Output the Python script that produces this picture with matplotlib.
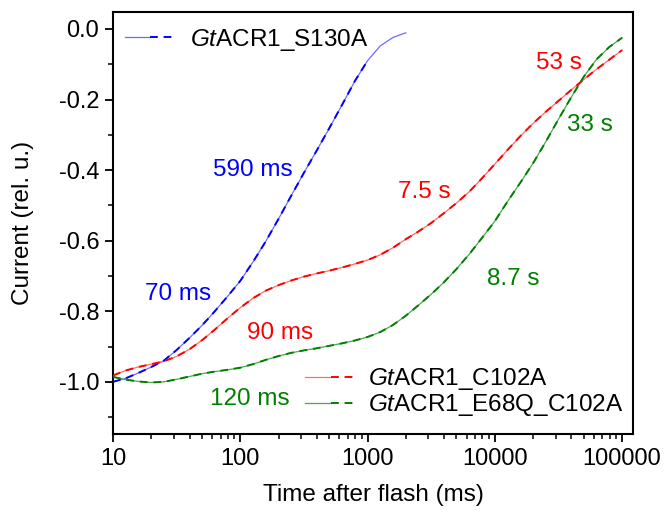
import matplotlib
matplotlib.use("Agg")
import matplotlib.pyplot as plt
from matplotlib.ticker import LogLocator, MultipleLocator, FixedLocator, NullFormatter
from matplotlib.legend_handler import HandlerTuple

plt.rcParams['font.family'] = ['Liberation Sans', 'DejaVu Sans']
plt.rcParams['mathtext.fontset'] = 'custom'
plt.rcParams['mathtext.it'] = 'Liberation Sans:italic'
plt.rcParams['mathtext.rm'] = 'Liberation Sans'

# ---- data ----
time_ms = [10, 12.6, 15.8, 20, 25.1, 31.6, 39.8, 50.1, 63.1, 79.4,
           100, 126, 158, 200, 251, 316, 398, 501, 631, 794,
           1000, 1259, 1585, 1995, 2512, 3162, 3981, 5012, 6310, 7943,
           10000, 12589, 15849, 19953, 25119, 31623, 39811, 50119, 63096, 79433,
           100000]

blue_y = [-1.000, -0.990, -0.975, -0.958, -0.940, -0.910, -0.876, -0.840, -0.800, -0.758,
          -0.714, -0.660, -0.603, -0.538, -0.473, -0.408, -0.345, -0.281, -0.215, -0.148,
          -0.090, -0.048, -0.024, -0.011]

red_y = [-0.982, -0.968, -0.958, -0.950, -0.942, -0.928, -0.908, -0.882, -0.852, -0.820,
         -0.790, -0.763, -0.742, -0.726, -0.713, -0.702, -0.693, -0.685, -0.676, -0.666,
         -0.655, -0.640, -0.620, -0.596, -0.574, -0.550, -0.522, -0.493, -0.461, -0.423,
         -0.383, -0.343, -0.304, -0.268, -0.235, -0.204, -0.173, -0.143, -0.114, -0.087,
         -0.060]

green_y = [-0.986, -0.994, -0.999, -1.002, -1.000, -0.993, -0.985, -0.977, -0.971, -0.966,
           -0.960, -0.950, -0.938, -0.927, -0.918, -0.911, -0.905, -0.898, -0.891, -0.883,
           -0.873, -0.859, -0.839, -0.813, -0.783, -0.752, -0.718, -0.680, -0.638, -0.592,
           -0.545, -0.489, -0.436, -0.381, -0.320, -0.256, -0.194, -0.135, -0.086, -0.051,
           -0.025]

blue_fit_points = 21  # fitted (dashed) blue curve ends at 1000 ms

x_ticks = [10, 100, 1000, 10000, 100000]
x_tick_labels = ['10', '100', '1000', '10000', '100000']
y_ticks = [0.0, -0.2, -0.4, -0.6, -0.8, -1.0]
y_tick_labels = ['0.0', '-0.2', '-0.4', '-0.6', '-0.8', '-1.0']

labels = [r'$\it{Gt}$ACR1_S130A', r'$\it{Gt}$ACR1_C102A', r'$\it{Gt}$ACR1_E68Q_C102A']

annot_text = ['590 ms', '70 ms', '90 ms', '120 ms', '7.5 s', '53 s', '33 s', '8.7 s']
annot_x = [126, 32.5, 206, 118, 2810, 31900, 56000, 13900]
annot_y = [-0.40, -0.751, -0.861, -1.048, -0.462, -0.096, -0.272, -0.708]
annot_color = ['blue', 'blue', 'red', 'green', 'red', 'red', 'green', 'green']

FS = 17.5
fig = plt.figure(figsize=(6.66, 5.12), dpi=100)
ax = fig.add_axes([0.1697, 0.1523, 0.7808, 0.8242])

def curve(y, color, light, n_fit=None):
    t = time_ms[:len(y)]
    solid, = ax.plot(t, y, '-', color=light, lw=0.9, zorder=2)
    n = len(y) if n_fit is None else n_fit
    dashed, = ax.plot(t[:n], y[:n], '--', color=color, lw=1.4, dashes=(4, 3), zorder=3)
    return solid, dashed

hb = curve(blue_y, '#0000ff', '#6b6bff', blue_fit_points)
hr = curve(red_y, '#ff0000', '#ff6b6b')
hg = curve(green_y, '#007f00', '#4fa64f')

ax.set_xscale('log')
ax.set_xlim(10, 122000)
ax.set_ylim(-1.148, 0.048)

ax.xaxis.set_major_locator(FixedLocator(x_ticks))
ax.set_xticklabels(x_tick_labels)
ax.xaxis.set_minor_locator(LogLocator(base=10, subs=range(2, 10)))
ax.xaxis.set_minor_formatter(NullFormatter())
ax.set_yticks(y_ticks)
ax.set_yticklabels(y_tick_labels)
ax.yaxis.set_minor_locator(MultipleLocator(0.1))

ax.tick_params(which='major', direction='out', length=6, width=1.3, labelsize=17, pad=4)
ax.tick_params(which='minor', direction='out', length=3.5, width=1.1)
for s in ax.spines.values():
    s.set_linewidth(1.5)

ax.set_xlabel('Time after flash (ms)', fontsize=FS, labelpad=10)
ax.set_ylabel('Current (rel. u.)', fontsize=FS, labelpad=18)

for txt, x, y, c in zip(annot_text, annot_x, annot_y, annot_color):
    ax.text(x, y, txt, color=c, fontsize=FS, ha='center', va='center')

hm = {tuple: HandlerTuple(ndivide=None)}
leg1 = ax.legend([hb], [labels[0]], loc='center left', bbox_to_anchor=(0.023, 0.934),
                 frameon=False, fontsize=FS, handlelength=2.06, handletextpad=0.6,
                 borderpad=0, borderaxespad=0, handler_map=hm)
ax.add_artist(leg1)
ax.legend([hr, hg], labels[1:], loc='center right', bbox_to_anchor=(0.981, 0.099),
          frameon=False, fontsize=FS, handlelength=2.14, handletextpad=0.45,
          labelspacing=0.0, borderpad=0, borderaxespad=0, handler_map=hm)

fig.savefig('out.png', dpi=100)
